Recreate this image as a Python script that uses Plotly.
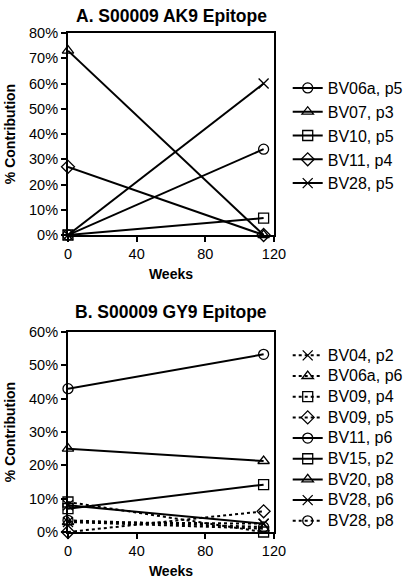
import plotly.graph_objects as go

weeks = [0, 114]

# Panel A: S00009 AK9 epitope
a_names = ["BV06a, p5", "BV07, p3", "BV10, p5", "BV11, p4", "BV28, p5"]
a_values = [
    [0.0, 0.34],
    [0.73, 0.0],
    [0.0, 0.067],
    [0.27, 0.0],
    [0.0, 0.60],
]
a_symbols = ["circle-open", "triangle-up-open", "square-open", "diamond-open", "x-thin-open"]
a_dash = ["solid"] * 5

# Panel B: S00009 GY9 epitope
b_names = ["BV04, p2", "BV06a, p6", "BV09, p4", "BV09, p5", "BV11, p6",
           "BV15, p2", "BV20, p8", "BV28, p6", "BV28, p8"]
b_values = [
    [0.030, 0.025],
    [0.030, 0.010],
    [0.090, 0.0],
    [0.0, 0.062],
    [0.430, 0.533],
    [0.070, 0.142],
    [0.250, 0.213],
    [0.080, 0.025],
    [0.035, 0.015],
]
b_symbols = ["x-thin-open", "triangle-up-open", "square-open", "diamond-open", "circle-open",
             "square-open", "triangle-up-open", "x-thin-open", "circle-open"]
b_dash = ["dot", "dot", "dot", "dot", "solid", "solid", "solid", "solid", "dot"]

FONT = "Liberation Sans, Arial, sans-serif"
W, H = 408, 582

fig = go.Figure()

def add_panel(names, values, symbols, dashes, xa, ya, legend):
    for n, v, s, d in zip(names, values, symbols, dashes):
        fig.add_trace(go.Scatter(
            x=weeks, y=v, name="<span style='font-size:16px'>" + n + "</span>",
            mode="lines+markers",
            xaxis=xa, yaxis=ya, legend=legend, cliponaxis=False,
            line=dict(color="black", width=2, dash=d),
            marker=dict(symbol=s, size=10, color="black",
                        line=dict(color="black", width=1.3)),
        ))

add_panel(a_names, a_values, a_symbols, a_dash, "x", "y", "legend")
add_panel(b_names, b_values, b_symbols, b_dash, "x2", "y2", "legend2")

def px_x(p):
    return p / W

def px_y(p):
    return 1 - p / H

axis_common = dict(
    showline=True, linecolor="black", linewidth=2, mirror=True,
    ticks="outside", ticklen=5, tickwidth=1.5, tickcolor="black",
    showgrid=False, zeroline=False, automargin=False,
    tickfont=dict(family=FONT, size=14.5, color="black"),
)

def xtitle():
    return dict(text="<b>Weeks</b>", font=dict(size=14), standoff=8)

def ytitle():
    return dict(text="<b>% Contribution</b>", font=dict(size=14), standoff=10)

fig.update_layout(
    width=W, height=H,
    margin=dict(l=0, r=0, t=0, b=0),
    paper_bgcolor="white", plot_bgcolor="white",
    font=dict(family=FONT, color="black"),
    xaxis=dict(domain=[px_x(69), px_x(278)], range=[0, 120], dtick=40, anchor="y",
               title=xtitle(), **axis_common),
    yaxis=dict(domain=[px_y(235), px_y(33)], range=[0, 0.8], dtick=0.1, tickformat=".0%",
               anchor="x", title=ytitle(), **axis_common),
    xaxis2=dict(domain=[px_x(69), px_x(278)], range=[0, 120], dtick=40, anchor="y2",
                title=xtitle(), **axis_common),
    yaxis2=dict(domain=[px_y(532), px_y(332)], range=[0, 0.6], dtick=0.1, tickformat=".0%",
                anchor="x2", title=ytitle(), **axis_common),
    legend=dict(x=px_x(292), y=px_y(71), xanchor="left", yanchor="top",
                font=dict(family=FONT, size=16), bgcolor="rgba(0,0,0,0)",
                itemwidth=30, tracegroupgap=0),
    legend2=dict(x=px_x(292), y=px_y(340), xanchor="left", yanchor="top",
                 font=dict(family=FONT, size=13.6), bgcolor="rgba(0,0,0,0)",
                 itemwidth=30, tracegroupgap=0),
    showlegend=True,
    annotations=[
        dict(text="<b>A. S00009 AK9 Epitope</b>", x=px_x(174), y=px_y(16),
             xref="paper", yref="paper", xanchor="center", yanchor="middle",
             showarrow=False, font=dict(family=FONT, size=17.5, color="black")),
        dict(text="<b>B. S00009 GY9 Epitope</b>", x=px_x(174), y=px_y(312),
             xref="paper", yref="paper", xanchor="center", yanchor="middle",
             showarrow=False, font=dict(family=FONT, size=17.5, color="black")),
    ],
)

fig.write_html("out.html")
